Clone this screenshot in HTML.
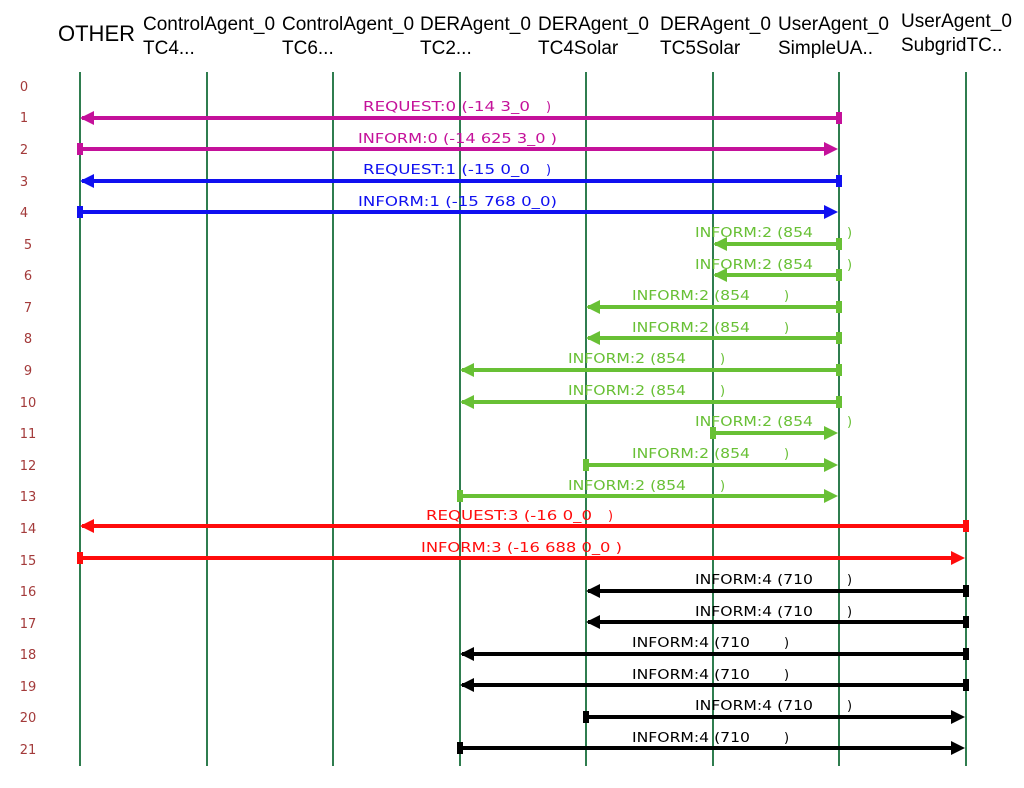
<!DOCTYPE html>
<html><head><meta charset="utf-8"><style>
html,body{margin:0;padding:0;background:#fff;width:1024px;height:788px;overflow:hidden}
svg{display:block}
.h{font-family:"Liberation Sans",Arial,sans-serif;font-size:19px;fill:#000}
.n{font-family:"DejaVu Sans",sans-serif;font-size:13px;fill:#a33a3a;text-anchor:middle}
.l{font-family:"DejaVu Sans",sans-serif;font-size:13px;white-space:pre}
</style></head><body>
<svg width="1024" height="788" viewBox="0 0 1024 788" xmlns="http://www.w3.org/2000/svg">
<g class="h">
<text x="58" y="41" style="font-size:22px">OTHER</text>
<text x="143" y="30">ControlAgent_0</text><text x="143" y="54">TC4...</text>
<text x="282" y="30">ControlAgent_0</text><text x="282" y="54">TC6...</text>
<text x="420" y="30">DERAgent_0</text><text x="420" y="54">TC2...</text>
<text x="538" y="30">DERAgent_0</text><text x="538" y="54">TC4Solar</text>
<text x="660" y="30">DERAgent_0</text><text x="660" y="54">TC5Solar</text>
<text x="778" y="30">UserAgent_0</text><text x="778" y="54">SimpleUA..</text>
<text x="901" y="27">UserAgent_0</text><text x="901" y="51">SubgridTC..</text>
</g>
<g stroke="#2f7d4f" stroke-width="2">
<line x1="80" y1="72" x2="80" y2="766"/><line x1="207" y1="72" x2="207" y2="766"/>
<line x1="333" y1="72" x2="333" y2="766"/><line x1="460" y1="72" x2="460" y2="766"/>
<line x1="586" y1="72" x2="586" y2="766"/><line x1="713" y1="72" x2="713" y2="766"/>
<line x1="839" y1="72" x2="839" y2="766"/><line x1="966" y1="72" x2="966" y2="766"/>
</g>
<g class="n">
<text x="24" y="91">0</text><text x="24" y="122">1</text><text x="24" y="154">2</text><text x="24" y="186">3</text>
<text x="24" y="217">4</text><text x="28" y="249">5</text><text x="28" y="280">6</text><text x="28" y="312">7</text>
<text x="28" y="343">8</text><text x="28" y="375">9</text><text x="28" y="407">10</text><text x="28" y="438">11</text>
<text x="28" y="470">12</text><text x="28" y="501">13</text><text x="28" y="533">14</text><text x="28" y="565">15</text>
<text x="28" y="596">16</text><text x="28" y="628">17</text><text x="28" y="659">18</text><text x="28" y="691">19</text>
<text x="28" y="722">20</text><text x="28" y="754">21</text>
</g>
<g id="msgs"></g>
<!-- Row 1 -->
<g fill="#c4119a" stroke="none">
<rect x="82" y="116" width="757" height="4"/><polygon points="80,118 94,111 94,125"/><rect x="836" y="112" width="6" height="12"/>
<text class="l" x="363" y="111" textLength="167" lengthAdjust="spacingAndGlyphs">REQUEST:0 (-14 3_0</text><text class="l" x="546" y="111">)</text>
<rect x="80" y="147" width="745" height="4"/><polygon points="838,149 824,142 824,156"/><rect x="77" y="143" width="6" height="12"/>
<text class="l" x="358" y="143" textLength="199" lengthAdjust="spacingAndGlyphs">INFORM:0 (-14 625 3_0 )</text>
</g>
<g fill="#1010f0">
<rect x="82" y="179" width="757" height="4"/><polygon points="80,181 94,174 94,188"/><rect x="836" y="175" width="6" height="12"/>
<text class="l" x="363" y="174" textLength="167" lengthAdjust="spacingAndGlyphs">REQUEST:1 (-15 0_0</text><text class="l" x="546" y="174">)</text>
<rect x="80" y="210" width="745" height="4"/><polygon points="838,212 824,205 824,219"/><rect x="77" y="206" width="6" height="12"/>
<text class="l" x="358" y="206" textLength="199" lengthAdjust="spacingAndGlyphs">INFORM:1 (-15 768 0_0)</text>
</g>
<g fill="#68c035">
<rect x="715" y="242" width="124" height="4"/><polygon points="713,244 727,237 727,251"/><rect x="836" y="238" width="6" height="12"/>
<text class="l" x="695" y="237" textLength="118" lengthAdjust="spacingAndGlyphs">INFORM:2 (854</text><text class="l" x="847" y="237">)</text>
<rect x="715" y="273" width="124" height="4"/><polygon points="713,275 727,268 727,282"/><rect x="836" y="269" width="6" height="12"/>
<text class="l" x="695" y="269" textLength="118" lengthAdjust="spacingAndGlyphs">INFORM:2 (854</text><text class="l" x="847" y="269">)</text>
<rect x="588" y="305" width="251" height="4"/><polygon points="586,307 600,300 600,314"/><rect x="836" y="301" width="6" height="12"/>
<text class="l" x="632" y="300" textLength="118" lengthAdjust="spacingAndGlyphs">INFORM:2 (854</text><text class="l" x="784" y="300">)</text>
<rect x="588" y="336" width="251" height="4"/><polygon points="586,338 600,331 600,345"/><rect x="836" y="332" width="6" height="12"/>
<text class="l" x="632" y="332" textLength="118" lengthAdjust="spacingAndGlyphs">INFORM:2 (854</text><text class="l" x="784" y="332">)</text>
<rect x="462" y="368" width="377" height="4"/><polygon points="460,370 474,363 474,377"/><rect x="836" y="364" width="6" height="12"/>
<text class="l" x="568" y="363" textLength="118" lengthAdjust="spacingAndGlyphs">INFORM:2 (854</text><text class="l" x="720" y="363">)</text>
<rect x="462" y="400" width="377" height="4"/><polygon points="460,402 474,395 474,409"/><rect x="836" y="396" width="6" height="12"/>
<text class="l" x="568" y="395" textLength="118" lengthAdjust="spacingAndGlyphs">INFORM:2 (854</text><text class="l" x="720" y="395">)</text>
<rect x="713" y="431" width="112" height="4"/><polygon points="838,433 824,426 824,440"/><rect x="710" y="427" width="6" height="12"/>
<text class="l" x="695" y="426" textLength="118" lengthAdjust="spacingAndGlyphs">INFORM:2 (854</text><text class="l" x="847" y="426">)</text>
<rect x="586" y="463" width="239" height="4"/><polygon points="838,465 824,458 824,472"/><rect x="583" y="459" width="6" height="12"/>
<text class="l" x="632" y="458" textLength="118" lengthAdjust="spacingAndGlyphs">INFORM:2 (854</text><text class="l" x="784" y="458">)</text>
<rect x="460" y="494" width="365" height="4"/><polygon points="838,496 824,489 824,503"/><rect x="457" y="490" width="6" height="12"/>
<text class="l" x="568" y="490" textLength="118" lengthAdjust="spacingAndGlyphs">INFORM:2 (854</text><text class="l" x="720" y="490">)</text>
</g>
<g fill="#ff0c0c">
<rect x="82" y="524" width="884" height="4"/><polygon points="80,526 94,519 94,533"/><rect x="963" y="520" width="6" height="12"/>
<text class="l" x="426" y="520" textLength="166" lengthAdjust="spacingAndGlyphs">REQUEST:3 (-16 0_0</text><text class="l" x="608" y="520">)</text>
<rect x="80" y="556" width="872" height="4"/><polygon points="965,558 951,551 951,565"/><rect x="77" y="552" width="6" height="12"/>
<text class="l" x="421" y="552" textLength="201" lengthAdjust="spacingAndGlyphs">INFORM:3 (-16 688 0_0 )</text>
</g>
<g fill="#000">
<rect x="588" y="589" width="378" height="4"/><polygon points="586,591 600,584 600,598"/><rect x="963" y="585" width="6" height="12"/>
<text class="l" x="695" y="584" textLength="118" lengthAdjust="spacingAndGlyphs">INFORM:4 (710</text><text class="l" x="847" y="584">)</text>
<rect x="588" y="620" width="378" height="4"/><polygon points="586,622 600,615 600,629"/><rect x="963" y="616" width="6" height="12"/>
<text class="l" x="695" y="616" textLength="118" lengthAdjust="spacingAndGlyphs">INFORM:4 (710</text><text class="l" x="847" y="616">)</text>
<rect x="462" y="652" width="504" height="4"/><polygon points="460,654 474,647 474,661"/><rect x="963" y="648" width="6" height="12"/>
<text class="l" x="632" y="647" textLength="118" lengthAdjust="spacingAndGlyphs">INFORM:4 (710</text><text class="l" x="784" y="647">)</text>
<rect x="462" y="683" width="504" height="4"/><polygon points="460,685 474,678 474,692"/><rect x="963" y="679" width="6" height="12"/>
<text class="l" x="632" y="679" textLength="118" lengthAdjust="spacingAndGlyphs">INFORM:4 (710</text><text class="l" x="784" y="679">)</text>
<rect x="586" y="715" width="366" height="4"/><polygon points="965,717 951,710 951,724"/><rect x="583" y="711" width="6" height="12"/>
<text class="l" x="695" y="710" textLength="118" lengthAdjust="spacingAndGlyphs">INFORM:4 (710</text><text class="l" x="847" y="710">)</text>
<rect x="460" y="746" width="492" height="4"/><polygon points="965,748 951,741 951,755"/><rect x="457" y="742" width="6" height="12"/>
<text class="l" x="632" y="742" textLength="118" lengthAdjust="spacingAndGlyphs">INFORM:4 (710</text><text class="l" x="784" y="742">)</text>
</g>
</svg>
</body></html>
